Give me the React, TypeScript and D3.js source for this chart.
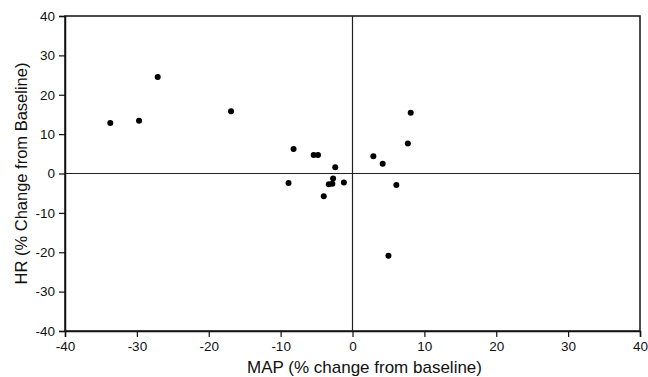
import React, { useEffect, useRef } from 'react';
import * as d3 from 'd3';

// MAP vs HR, % change from baseline
const mapChange = [-33.7, -29.7, -27.1, -16.9, -8.2, -5.4, -4.8, -2.4, -8.9, -2.7, -3.3, -2.8, -1.2, -4.0, 2.9, 4.2, 6.1, 7.7, 8.1, 5.0];
const hrChange = [12.8, 13.4, 24.5, 15.8, 6.2, 4.7, 4.7, 1.6, -2.4, -1.3, -2.7, -2.6, -2.3, -5.8, 4.4, 2.5, -2.9, 7.6, 15.4, -20.9];
const xTicks = [-40, -30, -20, -10, 0, 10, 20, 30, 40];
const yTicks = [-40, -30, -20, -10, 0, 10, 20, 30, 40];

const W = 648;
const H = 377;
const margin = { top: 16, right: 8, bottom: 46, left: 65 };

export default function App() {
  const ref = useRef<SVGSVGElement>(null);

  useEffect(() => {
    const svg = d3.select(ref.current);
    svg.selectAll('*').remove();

    const x = d3.scaleLinear().domain([-40, 40]).range([margin.left, W - margin.right]);
    const y = d3.scaleLinear().domain([-40, 40]).range([H - margin.bottom, margin.top]);
    const font = 'Arial, "Liberation Sans", sans-serif';

    // frame
    svg.append('rect')
      .attr('x', x(-40)).attr('y', y(40))
      .attr('width', x(40) - x(-40)).attr('height', y(-40) - y(40))
      .attr('fill', 'none').attr('stroke', '#111').attr('stroke-width', 1.5);

    // zero lines
    svg.append('line')
      .attr('x1', x(0)).attr('x2', x(0)).attr('y1', y(40)).attr('y2', y(-40))
      .attr('stroke', '#222').attr('stroke-width', 1.2);
    svg.append('line')
      .attr('x1', x(-40)).attr('x2', x(40)).attr('y1', y(0)).attr('y2', y(0))
      .attr('stroke', '#222').attr('stroke-width', 1.2);

    const xAxis = svg.append('g')
      .attr('transform', `translate(0,${y(-40)})`)
      .call(d3.axisBottom(x).tickValues(xTicks).tickSize(6).tickPadding(4).tickFormat(d3.format('d')));
    const yAxis = svg.append('g')
      .attr('transform', `translate(${x(-40)},0)`)
      .call(d3.axisLeft(y).tickValues(yTicks).tickSize(6).tickPadding(4).tickFormat(d3.format('d')));

    [xAxis, yAxis].forEach(g => {
      g.select('.domain').attr('stroke', '#111').attr('stroke-width', 1.5);
      g.selectAll('.tick line').attr('stroke', '#111').attr('stroke-width', 1.2);
      g.selectAll('.tick text')
        .attr('font-family', font).attr('font-size', 13.5).attr('fill', '#111');
    });
    // format negative sign as hyphen
    svg.selectAll('.tick text').text((d: any) => String(d));

    svg.append('g')
      .selectAll('circle')
      .data(mapChange.map((m, i) => [m, hrChange[i]]))
      .join('circle')
      .attr('cx', d => x(d[0]))
      .attr('cy', d => y(d[1]))
      .attr('r', 3)
      .attr('fill', '#000');

    svg.append('text')
      .attr('x', x(0) + 12).attr('y', H - 4)
      .attr('text-anchor', 'middle')
      .attr('font-family', font).attr('font-size', 17).attr('fill', '#111')
      .text('MAP (% change from baseline)');

    svg.append('text')
      .attr('transform', `translate(27,${y(0)}) rotate(-90)`)
      .attr('text-anchor', 'middle')
      .attr('font-family', font).attr('font-size', 16.5).attr('fill', '#111')
      .text('HR (% Change from Baseline)');
  }, []);

  return (
    <svg ref={ref} width={W} height={H} style={{ position: 'absolute', left: 0, top: 0, background: '#fff' }} />
  );
}
